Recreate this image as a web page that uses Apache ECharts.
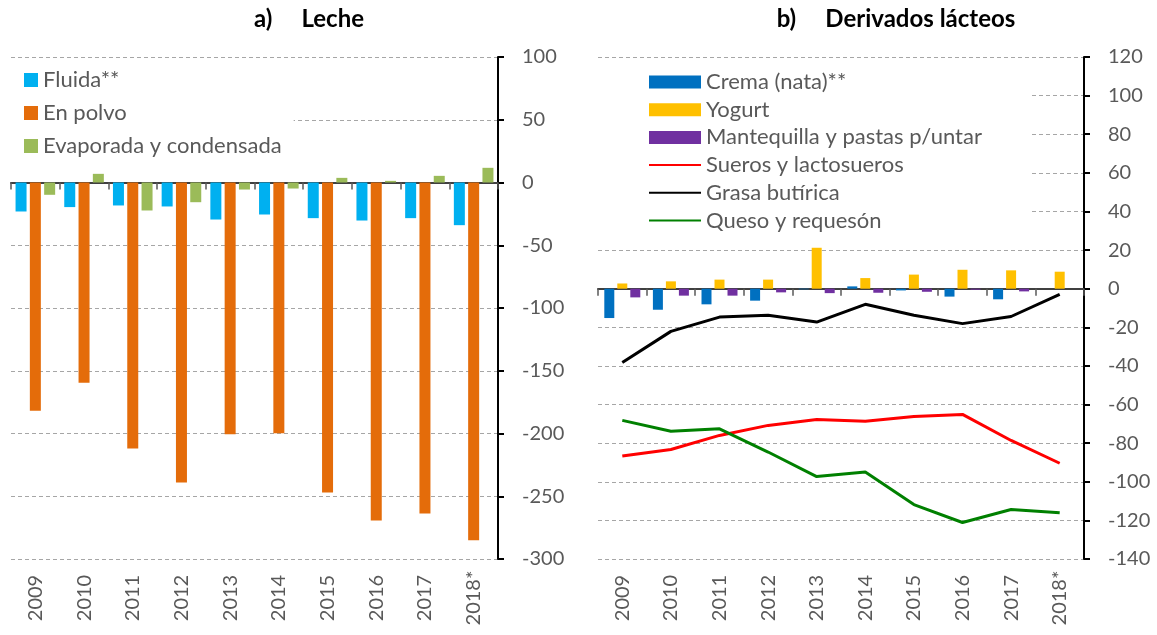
<!DOCTYPE html>
<html>
<head>
<meta charset="utf-8">
<script src="https://cdn.jsdelivr.net/npm/echarts@6/dist/echarts.min.js"></script>
<style>
html,body{margin:0;padding:0;background:#fff;}
#chart{width:1157px;height:635px;}
</style>
</head>
<body>
<div id="chart"></div>
<script>
// ---- data ----
const years = ['2009','2010','2011','2012','2013','2014','2015','2016','2017','2018*'];

// a) Leche
const fluida      = [-23.1, -19.6, -18.3, -19.1, -29.5, -25.5, -28.4, -30.3, -28.4, -34.0];
const enPolvo     = [-181.9, -159.5, -211.9, -239.0, -200.5, -199.9, -247.0, -269.3, -263.7, -285.0];
const evaporada   = [-9.8, 6.9, -22.3, -15.7, -5.6, -4.8, 3.7, 1.3, 5.3, 11.7];

// b) Derivados lácteos
const crema       = [-15.2, -10.9, -8.1, -6.2, -0.3, 1.2, -0.9, -4.1, -5.5, 0];
const yogurt      = [2.7, 3.8, 4.7, 4.7, 21.2, 5.5, 7.3, 9.8, 9.5, 8.8];
const mantequilla = [-4.5, -3.6, -3.6, -1.9, -2.3, -2.1, -1.6, -0.5, -1.4, 0];
const sueros      = [-86.7, -83.3, -76.0, -70.8, -67.7, -68.6, -66.2, -65.1, -78.6, -90.4];
const grasa       = [-38.2, -22.1, -14.7, -13.8, -17.3, -8.1, -13.8, -18.1, -14.4, -3.0];
const queso       = [-68.2, -73.8, -72.6, -84.6, -97.3, -95.0, -111.8, -121.1, -114.4, -116.0];

const leftTicks  = {min: -300, max: 100, interval: 50};
const rightTicks = {min: -140, max: 120, interval: 20};

// ---- styles ----
const FONT = 'Lato';
const TXT = '#595959';

function zeroAxis(gridIndex) {
  return {
    type: 'category', gridIndex: gridIndex, data: years, position: 'bottom',
    axisLine: {onZero: true, lineStyle: {color: '#404040', width: 2}},
    axisTick: {show: true, length: 7, lineStyle: {color: '#595959', width: 1.5}},
    axisLabel: {show: false},
    splitLine: {show: false}
  };
}
function labelAxis(gridIndex) {
  return {
    type: 'category', gridIndex: gridIndex, data: years, position: 'bottom',
    axisLine: {show: false, onZero: false},
    axisTick: {show: false},
    axisLabel: {rotate: 90, interval: 0, margin: 39, align: 'center', verticalAlign: 'middle',
      color: TXT, fontSize: 20, fontFamily: FONT},
    splitLine: {show: false}
  };
}
function valAxis(gridIndex, t) {
  return {
    type: 'value', gridIndex: gridIndex, position: 'right',
    min: t.min, max: t.max, interval: t.interval,
    axisLine: {show: true, lineStyle: {color: '#000', width: 2}},
    axisTick: {show: true, length: 6, lineStyle: {color: '#000', width: 2}},
    axisLabel: {margin: 24, color: TXT, fontSize: 20, fontFamily: FONT},
    splitLine: {show: true, lineStyle: {color: '#A6A6A6', type: [4, 3], width: 1}}
  };
}

const hideSym = {opacity: 0};

const option = {
  backgroundColor: '#fff',
  animation: false,
  title: [
    {text: 'a)     Leche', left: 304, top: 2, textAlign: 'center',
     textStyle: {fontFamily: FONT, fontWeight: 'bold', fontSize: 24, color: '#000'}},
    {text: 'b)     Derivados lácteos', left: 891, top: 2, textAlign: 'center',
     textStyle: {fontFamily: FONT, fontWeight: 'bold', fontSize: 24, color: '#000'}}
  ],
  grid: [
    {left: 11, right: 659, top: 57, bottom: 76, containLabel: false},
    {left: 598, right: 73, top: 57, bottom: 76, containLabel: false}
  ],
  legend: [
    {
      orient: 'vertical', left: 11, top: 62,
      padding: [7, 12, 9, 13],
      backgroundColor: '#fff',
      itemWidth: 14, itemHeight: 14, itemGap: 11,
      icon: 'rect',
      textStyle: {fontFamily: FONT, fontSize: 22, color: TXT, lineHeight: 22},
      data: ['Fluida**', 'En polvo', 'Evaporada y condensada']
    },
    {
      orient: 'vertical', left: 598, top: 62,
      padding: [9, 49, 8, 50],
      backgroundColor: '#fff',
      itemWidth: 52, itemHeight: 13, itemGap: 5.7,
      textStyle: {fontFamily: FONT, fontSize: 22, color: TXT, lineHeight: 22},
      data: [
        {name: 'Crema (nata)**', icon: 'rect'},
        {name: 'Yogurt', icon: 'rect'},
        {name: 'Mantequilla y pastas p/untar', icon: 'rect'},
        {name: 'Sueros y lactosueros', itemStyle: hideSym},
        {name: 'Grasa butírica', itemStyle: hideSym},
        {name: 'Queso y requesón', itemStyle: hideSym}
      ]
    }
  ],
  xAxis: [zeroAxis(0), labelAxis(0), zeroAxis(1), labelAxis(1)],
  yAxis: [valAxis(0, leftTicks), valAxis(1, rightTicks)],
  series: [
    {name: 'Fluida**', type: 'bar', xAxisIndex: 0, yAxisIndex: 0, data: fluida,
     barWidth: 11, barGap: '30%', itemStyle: {color: '#00B0F0'}},
    {name: 'En polvo', type: 'bar', xAxisIndex: 0, yAxisIndex: 0, data: enPolvo,
     barWidth: 11, barGap: '30%', itemStyle: {color: '#E46C0A'}},
    {name: 'Evaporada y condensada', type: 'bar', xAxisIndex: 0, yAxisIndex: 0, data: evaporada,
     barWidth: 11, barGap: '30%', itemStyle: {color: '#9BBB59'}},

    {name: 'Crema (nata)**', type: 'bar', xAxisIndex: 2, yAxisIndex: 1, data: crema,
     barWidth: 10, barGap: '30%', itemStyle: {color: '#0070C0'}},
    {name: 'Yogurt', type: 'bar', xAxisIndex: 2, yAxisIndex: 1, data: yogurt,
     barWidth: 10, barGap: '30%', itemStyle: {color: '#FFC000'}},
    {name: 'Mantequilla y pastas p/untar', type: 'bar', xAxisIndex: 2, yAxisIndex: 1, data: mantequilla,
     barWidth: 10, barGap: '30%', itemStyle: {color: '#7030A0'}},
    {name: 'Sueros y lactosueros', type: 'line', xAxisIndex: 2, yAxisIndex: 1, data: sueros,
     symbol: 'none', z: 5, lineStyle: {color: '#FF0000', width: 3}, itemStyle: {color: '#FF0000'}},
    {name: 'Grasa butírica', type: 'line', xAxisIndex: 2, yAxisIndex: 1, data: grasa,
     symbol: 'none', z: 5, lineStyle: {color: '#000000', width: 3}, itemStyle: {color: '#000000'}},
    {name: 'Queso y requesón', type: 'line', xAxisIndex: 2, yAxisIndex: 1, data: queso,
     symbol: 'none', z: 5, lineStyle: {color: '#008000', width: 3}, itemStyle: {color: '#008000'}}
  ]
};

const chart = echarts.init(document.getElementById('chart'), null, {renderer: 'canvas'});
chart.setOption(option);
</script>
</body>
</html>
